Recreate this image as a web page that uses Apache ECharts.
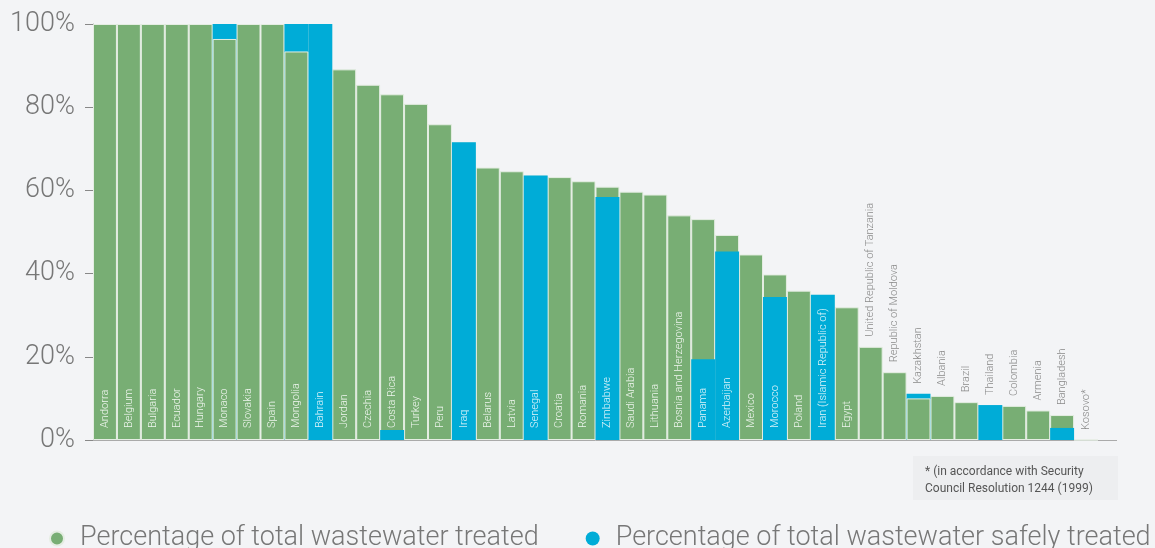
<!DOCTYPE html>
<html>
<head>
<meta charset="utf-8">
<script src="https://cdn.jsdelivr.net/npm/echarts@6/dist/echarts.min.js"></script>
<style>
html,body{margin:0;padding:0;background:#f3f4f6;}
#chart{width:1155px;height:548px;}
</style>
</head>
<body>
<div id="chart"></div>
<script>
const categories = ["Andorra","Belgium","Bulgaria","Ecuador","Hungary","Monaco","Slovakia","Spain","Mongolia","Bahrain","Jordan","Czechia","Costa Rica","Turkey","Peru","Iraq","Belarus","Latvia","Senegal","Croatia","Romania","Zimbabwe","Saudi Arabia","Lithuania","Bosnia and Herzegovina","Panama","Azerbaijan","Mexico","Morocco","Poland","Iran (Islamic Republic of)","Egypt","United Republic of Tanzania","Republic of Moldova","Kazakhstan","Albania","Brazil","Thailand","Colombia","Armenia","Bangladesh","Kosovo*"];
const totalTreated = [100,100,100,100,100,96.4,100,100,93.4,100,89.1,85.4,83.1,80.8,75.9,71.6,65.5,64.6,63.6,63.2,62.2,60.9,59.7,59.0,54.0,53.1,49.3,44.6,39.8,35.9,34.9,31.9,22.4,16.3,10.0,10.6,9.1,8.4,8.2,7.1,6.0,0];
const safelyTreated = [null,null,null,null,null,100,null,null,100,100,null,null,2.4,null,null,71.6,null,null,63.6,null,null,58.4,null,null,null,19.4,45.3,null,34.4,null,34.9,null,null,null,11.1,null,null,8.4,null,null,2.9,null];
const yTicks = [0,20,40,60,80,100];
const seriesNames = ["Percentage of total wastewater treated","Percentage of total wastewater safely treated"];
const noteLines = ["* (in accordance with Security","Council Resolution 1244 (1999)"];

const GREEN = '#78ae74', BLUE = '#00acd7';
const FONT = 'Roboto';

// green drawn in front only where it is smaller than the blue value
const greenFront = totalTreated.map((t,i)=> (safelyTreated[i]!=null && t < safelyTreated[i]) ? t : '-');
const labelData = categories.map((c,i)=>{
  const v = Math.max(totalTreated[i], safelyTreated[i]==null?0:safelyTreated[i]);
  const outside = v < 25;
  return {
    value: v,
    label: outside ? {position:'top', distance:10, color:'#8a8a8a'} : {position:'insideBottom', distance:12, color:'rgba(255,255,255,0.88)'}
  };
});

const chart = echarts.init(document.getElementById('chart'), null, {renderer:'canvas'});
const commonBar = {type:'bar', barGap:'-100%', barCategoryGap:'0%', silent:true, animation:false};
chart.setOption({
  backgroundColor:'#f3f4f6',
  animation:false,
  grid:{left:93, right:57, top:24, bottom:108, containLabel:false},
  xAxis:{
    type:'category', data:categories,
    axisLine:{show:true, lineStyle:{color:'#aaaaaa', width:1}},
    axisTick:{show:false}, axisLabel:{show:false}, splitLine:{show:false}
  },
  yAxis:{
    type:'value', min:0, max:100, interval:20,
    axisLine:{show:true, lineStyle:{color:'#aaaaaa', width:1}},
    axisTick:{show:true, length:8, lineStyle:{color:'#888888'}},
    splitLine:{show:false},
    axisLabel:{
      margin:18, fontFamily:FONT, fontWeight:300, fontSize:27, color:'#777777',
      formatter:(v)=> yTicks.includes(v) ? v+'%' : ''
    }
  },
  legend:{
    data:seriesNames, left:44, top:520, icon:'circle', itemWidth:36, itemHeight:14, itemGap:47,
    textStyle:{fontFamily:FONT, fontWeight:300, fontSize:27, color:'#777777'}
  },
  series:[
    Object.assign({}, commonBar, {name:seriesNames[0], data:totalTreated, z:2,
      itemStyle:{color:GREEN, borderColor:'#e4ede2', borderWidth:1}}),
    Object.assign({}, commonBar, {name:seriesNames[1], data:safelyTreated, z:3,
      itemStyle:{color:BLUE, borderWidth:0}}),
    Object.assign({}, commonBar, {name:seriesNames[0], data:greenFront, z:4,
      itemStyle:{color:GREEN, borderColor:'#e4ede2', borderWidth:1}}),
    Object.assign({}, commonBar, {name:'labels', data:labelData, z:5,
      itemStyle:{color:'rgba(0,0,0,0)'},
      label:{show:true, rotate:90, align:'left', verticalAlign:'middle',
        fontFamily:FONT, fontWeight:300, fontSize:11,
        formatter:(p)=>categories[p.dataIndex]}})
  ],
  graphic:[
    {type:'line', shape:{x1:1098, y1:440.5, x2:1117, y2:440.5}, style:{stroke:'#aaaaaa', lineWidth:1}, silent:true},
    {type:'rect', shape:{x:913, y:456, width:205, height:44}, style:{fill:'#edeef0'}, silent:true},
    {type:'text', left:925, top:463, silent:true,
      style:{text:noteLines.join('\n'), fontFamily:FONT, fontSize:12, lineHeight:17, fill:'#555555'}}
  ]
});
</script>
</body>
</html>
